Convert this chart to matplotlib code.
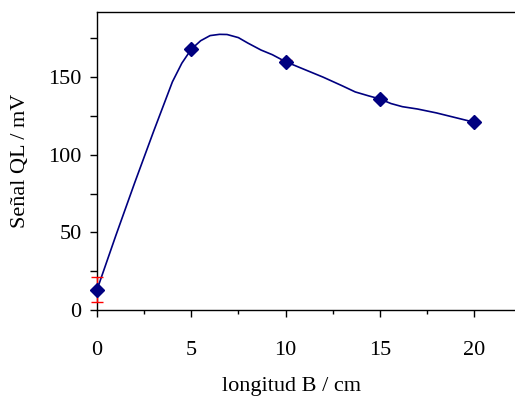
import numpy as np
import matplotlib.pyplot as plt
from matplotlib.ticker import MultipleLocator

plt.rcParams['font.family'] = ['Liberation Serif', 'DejaVu Serif']
plt.rcParams['font.size'] = 16

# measured signal vs length B
longitud_cm = [0, 5, 10, 15, 20]
senal_mV = [13, 168, 160, 136, 121]
error_mV = [8, 0.8, 0.8, 0.8, 0.8]

# smoothed trend line drawn through the measurements
curva_x = [0, 1, 2, 3, 4, 4.5, 5, 5.5, 6, 6.5, 6.9, 7.5, 8, 8.7, 9.3, 10, 11,
           12, 13, 13.7, 14.4, 15, 15.6, 16.2, 17, 18, 19, 20]
curva_y = [13, 48, 82, 115, 147, 159, 168, 173.5, 176.8, 177.6, 177.5, 175.5,
           172, 167.5, 164.5, 160, 155, 150, 144.5, 140.5, 138, 136, 133, 131,
           129.5, 127, 124, 121]

navy = '#000080'

fig = plt.figure(figsize=(5.15, 3.98), dpi=100)
ax = fig.add_axes([97 / 515, 88 / 398, 418 / 515, 298 / 398])

ax.plot(curva_x, curva_y, color=navy, lw=1.2, zorder=2, clip_on=False)
eb = ax.errorbar(longitud_cm, senal_mV, yerr=error_mV, fmt='none', ecolor='red',
                 elinewidth=1.0, capsize=4, capthick=1.0, zorder=3)
for art in eb.lines[1] + eb.lines[2]:
    art.set_clip_on(False)
ax.plot(longitud_cm, senal_mV, 'D', color=navy, ms=7, zorder=4, clip_on=False)

ax.set_xlim(0, 418 / 18.85)
ax.set_ylim(0, 192)
ax.xaxis.set_major_locator(MultipleLocator(5))
ax.xaxis.set_minor_locator(MultipleLocator(2.5))
ax.yaxis.set_major_locator(MultipleLocator(50))
ax.yaxis.set_minor_locator(MultipleLocator(25))

ax.tick_params(axis='both', which='major', direction='out', length=5, width=1)
ax.tick_params(axis='x', which='major', pad=17)
ax.tick_params(axis='x', which='minor', direction='out', length=3, width=1)
ax.tick_params(axis='y', which='minor', direction='out', length=5, width=1)
ax.tick_params(axis='y', which='major', pad=6)

ax.spines['right'].set_visible(False)
for s in ['left', 'bottom', 'top']:
    ax.spines[s].set_linewidth(1.0)

ax.set_xlabel('longitud B / cm')
ax.xaxis.set_label_coords(0.466, -0.225)
ax.set_ylabel('Señal QL / mV')
ax.yaxis.set_label_coords(-0.16, 0.5)

fig.savefig('out.png', dpi=100)
